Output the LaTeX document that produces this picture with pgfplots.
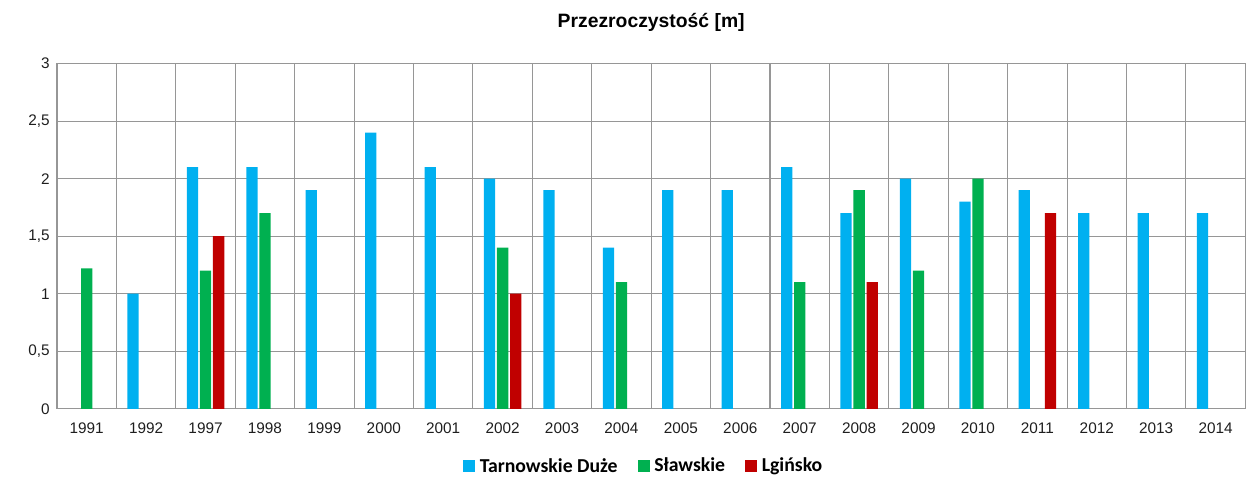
\documentclass[border=0pt]{standalone}
\usepackage{fontspec}
\setmainfont{Liberation Sans}
\newfontfamily\calib{Carlito}
\usepackage{pgfplots}
\pgfplotsset{compat=1.18}
\definecolor{cTD}{RGB}{0,176,240}
\definecolor{cSL}{RGB}{0,176,80}
\definecolor{cLG}{RGB}{192,0,0}
\definecolor{gridc}{RGB}{150,150,150}
\definecolor{txt}{RGB}{30,30,30}
\begin{document}
\begin{tikzpicture}
\useasboundingbox (0,0) rectangle (935pt,359pt);
\begin{axis}[
  at={(42.75pt,52.5pt)}, anchor=south west,
  scale only axis,
  width=891pt, height=258.75pt,
  xmin=-0.5, xmax=19.5,
  ymin=0, ymax=3,
  ytick={0,0.5,1,1.5,2,2.5,3},
  xtick={0,...,19},
  xticklabels={1991,1992,1997,1998,1999,2000,2001,2002,2003,2004,2005,2006,2007,2008,2009,2010,2011,2012,2013,2014},
  minor xtick={-0.5,0.5,1.5,2.5,3.5,4.5,5.5,6.5,7.5,8.5,9.5,10.5,11.5,12.5,13.5,14.5,15.5,16.5,17.5,18.5,19.5},
  xminorgrids, ymajorgrids,
  grid style={gridc, line width=0.8pt},
  minor grid style={gridc, line width=0.8pt},
  axis line style={gridc, line width=0.8pt},
  major tick style={draw=none},
  minor tick style={draw=none},
  /pgf/number format/assume math mode=true,
  /pgf/number format/use comma,
  yticklabel style={/pgf/number format/fixed, font=\fontsize{11.5}{13}\selectfont, text=txt, xshift=-2pt},
  xticklabel style={font=\fontsize{11.5}{13}\selectfont, text=txt, yshift=-3pt},
  title={\bfseries Przezroczystość [m]},
  title style={at={(0.5,1)}, anchor=center, yshift=25pt, font=\fontsize{14.5}{16}\selectfont},
  ybar, bar width=0.19,
  legend style={at={(0.494,-0.166)}, anchor=center, draw=none, legend columns=-1,
    font=\calib\bfseries\fontsize{14.8}{16}\selectfont,
    /tikz/every odd column/.append style={column sep=1.5pt},
    /tikz/every even column/.append style={column sep=13pt}},
  legend image code/.code={\fill[#1] (0pt,-4.5pt) rectangle (9pt,4.5pt);},
]
\addplot[fill=cTD, draw=none, bar shift=-0.22] coordinates {
 (1,1.0) (2,2.1) (3,2.1) (4,1.9) (5,2.4) (6,2.1) (7,2.0) (8,1.9) (9,1.4)
 (10,1.9) (11,1.9) (12,2.1) (13,1.7) (14,2.0) (15,1.8) (16,1.9)
 (17,1.7) (18,1.7) (19,1.7)};
\addlegendentry{Tarnowskie Duże}
\addplot[fill=cSL, draw=none, bar shift=0] coordinates {
 (0,1.22) (2,1.2) (3,1.7) (7,1.4) (9,1.1) (12,1.1) (13,1.9) (14,1.2) (15,2.0)};
\addlegendentry{Sławskie}
\addplot[fill=cLG, draw=none, bar shift=0.22] coordinates {
 (2,1.5) (7,1.0) (13,1.1) (16,1.7)};
\addlegendentry{Lgińsko}
\end{axis}
\end{tikzpicture}
\end{document}
